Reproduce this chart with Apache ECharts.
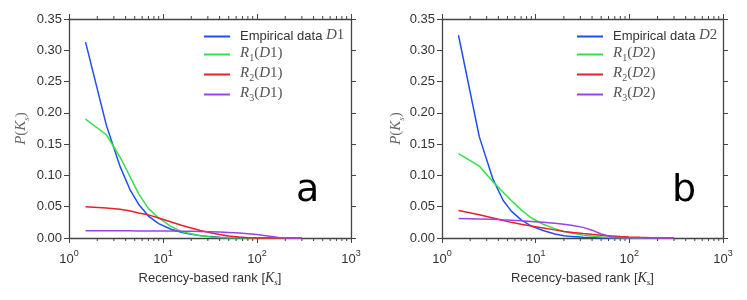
<!DOCTYPE html>
<html><head><meta charset="utf-8">
<script src="https://cdn.jsdelivr.net/npm/echarts@6/dist/echarts.min.js"></script>
<style>html,body{margin:0;padding:0;background:#fff}#c{width:747px;height:300px}</style>
</head><body><div id="c"></div>
<script>
// ranks (x values, recency-based rank K_s)
const ranks = [1.5, 2.5, 3.5, 4.5, 5.5, 7, 9, 12, 16, 20, 25, 32, 40, 50, 65, 80, 100, 130, 170, 220, 300];
// Panel a (D1)
const empD1 = [0.313, 0.180, 0.114, 0.076, 0.054, 0.035, 0.023, 0.0143, 0.0089, 0.0058, 0.0038, 0.0022, 0.0013, 0.0008, 0.0004, 0.0002, 0.0001, 0, 0, 0, 0];
const r1D1  = [0.190, 0.165, 0.129, 0.097, 0.071, 0.047, 0.032, 0.019, 0.0098, 0.0067, 0.0036, 0.0018, 0.0009, 0.0004, 0.0002, 0.0001, 0, 0, 0, 0, 0];
const r2D1  = [0.050, 0.048, 0.046, 0.043, 0.040, 0.037, 0.032, 0.026, 0.020, 0.016, 0.012, 0.0085, 0.0055, 0.0033, 0.0015, 0.0004, 0, 0, 0, 0, 0];
const r3D1  = [0.0115, 0.0115, 0.0114, 0.0114, 0.0113, 0.0112, 0.0111, 0.0110, 0.0108, 0.0106, 0.0103, 0.0099, 0.0094, 0.0087, 0.0078, 0.0068, 0.0055, 0.0033, 0.0008, 0, 0];
// Panel b (D2)
const empD2 = [0.324, 0.162, 0.094, 0.060, 0.043, 0.029, 0.019, 0.012, 0.0065, 0.0036, 0.0022, 0.0013, 0.0008, 0.0005, 0.0003, 0.0002, 0.0001, 0, 0, 0, 0];
const r1D2  = [0.135, 0.115, 0.090, 0.073, 0.060, 0.045, 0.032, 0.022, 0.015, 0.0105, 0.0077, 0.0046, 0.0031, 0.0015, 0.0007, 0.0004, 0.0002, 0.0001, 0, 0, 0];
const r2D2  = [0.044, 0.037, 0.032, 0.028, 0.025, 0.022, 0.019, 0.016, 0.013, 0.0105, 0.0088, 0.0072, 0.0058, 0.0045, 0.0033, 0.0024, 0.0017, 0.0010, 0.0005, 0.0002, 0];
const r3D2  = [0.031, 0.0305, 0.030, 0.029, 0.0285, 0.0275, 0.0265, 0.025, 0.0235, 0.022, 0.020, 0.017, 0.0125, 0.0065, 0.0018, 0.0008, 0.0004, 0.0002, 0.0001, 0, 0];
// axis ticks
const yTicks = [0, 0.05, 0.10, 0.15, 0.20, 0.25, 0.30, 0.35];
const xDecades = [1, 10, 100, 1000];
const minorTicks = [2,3,4,5,6,7,8,9,20,30,40,50,60,70,80,90,200,300,400,500,600,700,800,900];

const namesA = ['Empirical data D1', 'R1(D1)', 'R2(D1)', 'R3(D1)'];
const namesB = ['Empirical data D2', 'R1(D2)', 'R2(D2)', 'R3(D2)'];
const colors = ['#1f4ff0', '#33e048', '#e8202a', '#9a44e6'];

const SANS = 'Liberation Sans';
const SERIF = 'Liberation Serif';
const mathRich = {
  m: {fontFamily: SERIF, fontStyle: 'italic', fontSize: 15, color: '#555', lineHeight: 17, verticalAlign: 'top'},
  u: {fontFamily: SERIF, fontSize: 15, color: '#555', lineHeight: 17, verticalAlign: 'top'},
  sub: {fontFamily: SERIF, fontSize: 10, color: '#555', lineHeight: 10, verticalAlign: 'bottom'},
  t: {fontFamily: SANS, fontSize: 13, color: '#333', lineHeight: 17, verticalAlign: 'top', padding: [2, 0, 0, 0]}
};
function legendFmt(name) {
  let m = name.match(/^Empirical data (D\d)$/);
  if (m) return '{t|Empirical data }{m|D}{u|' + m[1].slice(1) + '}';
  m = name.match(/^R(\d)\(D(\d)\)$/);
  return '{m|R}{sub|' + m[1] + '}{u|(}{m|D}{u|' + m[2] + ')}';
}

function pairs(vals) { return ranks.map((r, i) => [r, vals[i]]); }

const axisCol = '#444';
function xAx(gi, pos, labels) {
  return {
    type: 'log', logBase: 10, min: xDecades[0], max: xDecades[xDecades.length - 1],
    gridIndex: gi, position: pos,
    axisLine: {show: true, onZero: false, lineStyle: {color: axisCol, width: 1.3}},
    axisTick: {show: true, inside: false, length: 5, lineStyle: {color: axisCol}},
    splitLine: {show: false},
    axisLabel: labels ? {
      show: true, margin: 11,
      formatter: v => '{b|10}{sup|' + Math.round(Math.log10(v)) + '}',
      rich: {
        b: {fontFamily: SANS, fontSize: 13, color: '#333', lineHeight: 17, verticalAlign: 'bottom'},
        sup: {fontFamily: SANS, fontSize: 9, color: '#333', lineHeight: 10, verticalAlign: 'top'}
      }
    } : {show: false},
    name: labels ? 'Recency-based rank [{m|K}{sub|s}]' : '',
    nameLocation: 'middle', nameGap: 26,
    nameTextStyle: {fontFamily: SANS, fontSize: 13, color: '#333',
      rich: {m: {fontFamily: SERIF, fontStyle: 'italic', fontSize: 14, color: '#333', lineHeight: 16, verticalAlign: 'top'},
             sub: {fontFamily: SERIF, fontStyle: 'italic', fontSize: 9, color: '#333', lineHeight: 9, verticalAlign: 'bottom'}}}
  };
}
function yAx(gi, pos, labels, gap) {
  return {
    type: 'value', min: yTicks[0], max: yTicks[yTicks.length - 1], interval: 0.05,
    gridIndex: gi, position: pos,
    axisLine: {show: true, lineStyle: {color: axisCol, width: 1.3}},
    axisTick: {show: true, inside: false, length: 5, lineStyle: {color: axisCol}},
    splitLine: {show: false},
    axisLabel: labels ? {show: true, margin: 7, fontFamily: SANS, fontSize: 13, color: '#333',
      formatter: v => v.toFixed(2)} : {show: false},
    name: labels ? '{m|P}{u|(}{m|K}{sub|s}{u|)}' : '',
    nameLocation: 'middle', nameGap: gap, nameRotate: 90,
    nameTextStyle: {rich: {
      m: {fontFamily: SERIF, fontStyle: 'italic', fontSize: 15, color: '#666', lineHeight: 17, verticalAlign: 'top'},
      u: {fontFamily: SERIF, fontSize: 15, color: '#666', lineHeight: 17, verticalAlign: 'top'},
      sub: {fontFamily: SERIF, fontStyle: 'italic', fontSize: 9, color: '#666', lineHeight: 9, verticalAlign: 'bottom'}}}
  };
}

function lineSeries(name, vals, ci, xi, yi) {
  return {
    type: 'line', name: name, data: pairs(vals), xAxisIndex: xi, yAxisIndex: yi,
    showSymbol: false, symbol: 'none', smooth: false, clip: false,
    lineStyle: {color: colors[ci], width: 1.5}, itemStyle: {color: colors[ci]}
  };
}
function minorSeries(xi, yi) {
  return {
    type: 'custom', xAxisIndex: xi, yAxisIndex: yi, silent: true, clip: false,
    data: minorTicks.map(v => [v]),
    encode: {x: 0},
    renderItem: function (params, api) {
      const v = api.value(0);
      const b = api.coord([v, yTicks[0]]);
      const t = api.coord([v, yTicks[yTicks.length - 1]]);
      const st = {stroke: axisCol, lineWidth: 1};
      return {type: 'group', children: [
        {type: 'line', shape: {x1: b[0], y1: b[1], x2: b[0], y2: b[1] + 3}, style: st},
        {type: 'line', shape: {x1: t[0], y1: t[1], x2: t[0], y2: t[1] - 3}, style: st}
      ]};
    }
  };
}

function legend(names, left) {
  return {
    data: names.map(n => ({name: n, icon: 'rect'})),
    orient: 'vertical', left: left, top: 28, padding: 0, itemGap: 3,
    itemWidth: 26, itemHeight: 2, selectedMode: false,
    formatter: legendFmt,
    textStyle: {rich: mathRich, padding: [0, 0, 0, 5]}
  };
}

const chart = echarts.init(document.getElementById('c'), null, {renderer: 'canvas'});
chart.setOption({
  animation: false,
  backgroundColor: '#fff',
  grid: [
    {left: 69, top: 19, width: 282, height: 219},
    {left: 442, top: 19, width: 281, height: 219}
  ],
  xAxis: [xAx(0, 'bottom', true), xAx(0, 'top', false), xAx(1, 'bottom', true), xAx(1, 'top', false)],
  yAxis: [yAx(0, 'left', true, 38), yAx(0, 'right', false, 0), yAx(1, 'left', true, 36), yAx(1, 'right', false, 0)],
  legend: [legend(namesA, 204), legend(namesB, 577)],
  graphic: [
    {type: 'text', left: 296, top: 172, style: {text: 'a', fontFamily: 'DejaVu Sans', fontSize: 38, fill: '#000'}},
    {type: 'text', left: 672, top: 172, style: {text: 'b', fontFamily: 'DejaVu Sans', fontSize: 38, fill: '#000'}}
  ],
  series: [
    lineSeries(namesA[0], empD1, 0, 0, 0),
    lineSeries(namesA[1], r1D1, 1, 0, 0),
    lineSeries(namesA[2], r2D1, 2, 0, 0),
    lineSeries(namesA[3], r3D1, 3, 0, 0),
    lineSeries(namesB[0], empD2, 0, 2, 2),
    lineSeries(namesB[1], r1D2, 1, 2, 2),
    lineSeries(namesB[2], r2D2, 2, 2, 2),
    lineSeries(namesB[3], r3D2, 3, 2, 2),
    minorSeries(0, 0),
    minorSeries(2, 2)
  ]
});
</script></body></html>
